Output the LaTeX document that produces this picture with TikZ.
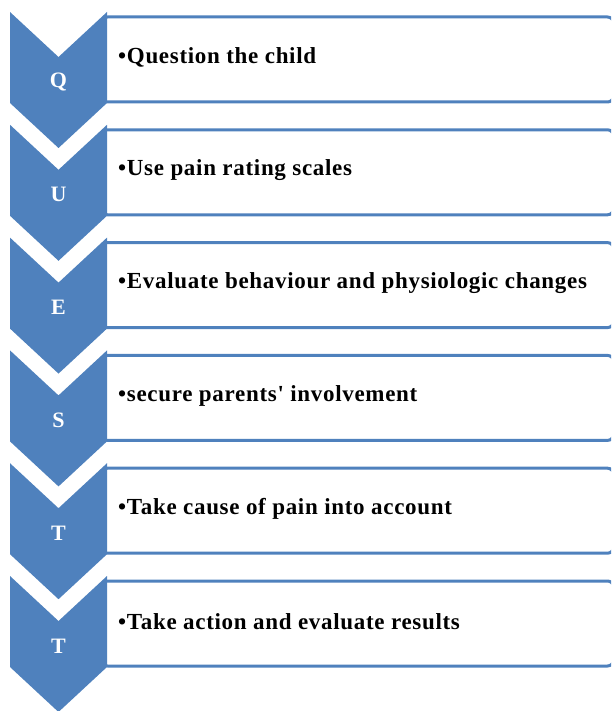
\documentclass[tikz,border=0pt]{standalone}
\usepackage{fontspec}
\setmainfont{Liberation Serif}
\newfontfamily\itemfont[LetterSpace=3]{Liberation Serif}
\definecolor{accent}{HTML}{4F81BD}
\tikzset{
  stepbox/.style={draw=accent, line width=3pt, fill=white, rounded corners=6pt,
    minimum width=512pt, minimum height=85pt, inner sep=0pt, anchor=north west},
  chev/.style={fill=accent},
  letter/.style={text=white, font=\fontsize{22}{26}\selectfont\bfseries, inner sep=0pt},
  itemtext/.style={font=\itemfont\fontsize{23}{27}\selectfont\bfseries, anchor=west, inner sep=0pt}
}
\begin{document}
\begin{tikzpicture}[x=1pt,y=-1pt]
\useasboundingbox (0,0) rectangle (611,711);
\clip (0,0) rectangle (611,711);
\foreach \L/\T [count=\i from 0] in {Q/Question the child,U/Use pain rating scales,E/Evaluate behaviour and physiologic changes,S/secure parents' involvement,T/Take cause of pain into account,T/Take action and evaluate results}{
  \pgfmathsetmacro\ct{12+112.8*\i}
  \pgfmathsetmacro\bt{15.5+112.8*\i}
  \node[stepbox] (box\i) at (100,\bt) {};
  \fill[chev] (10,\ct) -- (58.5,{\ct+45}) -- (107,\ct) -- (107,{\ct+91}) -- (58.5,{\ct+136}) -- (10,{\ct+91}) -- cycle;
  \node[letter] (let\i) at (58.5,{\ct+70}) {\L};
  \node[itemtext] (txt\i) at (118,{\bt+42}) {\textbullet\T};
}
\end{tikzpicture}
\end{document}
